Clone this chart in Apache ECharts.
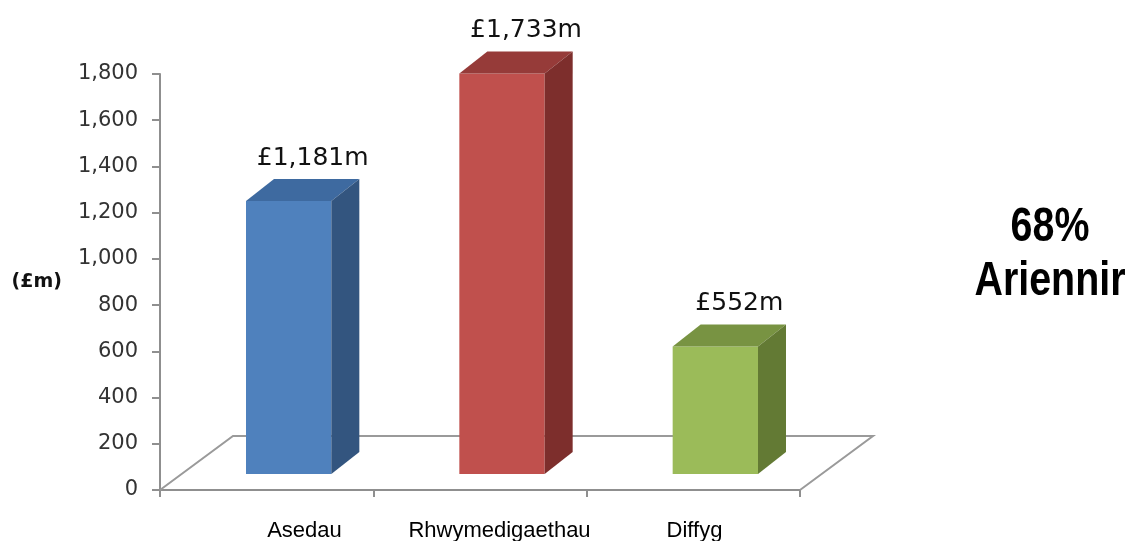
<!DOCTYPE html>
<html>
<head>
<meta charset="utf-8">
<script src="https://cdn.jsdelivr.net/npm/echarts@6/dist/echarts.min.js"></script>
<style>
  html, body { margin: 0; padding: 0; background: #fff; }
  #chart { width: 1130px; height: 541px; }
</style>
</head>
<body>
<div id="chart"></div>
<script>
const categories = ['Asedau', 'Rhwymedigaethau', 'Diffyg'];
const values = [1181, 1733, 552];
const frontColors = ['#4F81BD', '#C0504D', '#9BBB59'];
const topColors = ['#3E6AA0', '#963B39', '#789342'];
const sideColors = ['#33557F', '#7D2E2C', '#637A34'];
const yMin = 0;
const yMax = 1800;
const yStep = 200;
const summaryLines = ['68%', 'Ariennir'];

// fake 3d: bars sit a bit behind the axis plane, floor goes back further
const SHIFT_X = 22, SHIFT_Y = -16;
const DEPTH_X = 28, DEPTH_Y = -22;
const FLOOR_X = 73, FLOOR_Y = -54;
const LINE_GREY = '#8f8f8f';

const chart = echarts.init(document.getElementById('chart'));

function renderFloor(params, api) {
  const cs = params.coordSys;
  const bx = cs.x, by = cs.y + cs.height;
  return {
    type: 'polyline',
    shape: {
      points: [
        [bx, by],
        [bx + FLOOR_X, by + FLOOR_Y],
        [bx + cs.width + FLOOR_X, by + FLOOR_Y],
        [bx + cs.width, by]
      ]
    },
    style: { stroke: '#9a9a9a', lineWidth: 2, fill: null }
  };
}

function renderBar(params, api) {
  const i = api.value(0);
  const v = api.value(1);
  const base = api.coord([i, 0]);
  const top = api.coord([i, v]);
  const band = api.size([1, 0])[0];
  const w = band * 0.40;
  const cx = base[0] + SHIFT_X;
  const xl = cx - w / 2, xr = cx + w / 2;
  const yb = base[1] + SHIFT_Y, yt = top[1] + SHIFT_Y;
  const label = '£' + v.toLocaleString('en-GB') + 'm';
  return {
    type: 'group',
    children: [
      {
        type: 'rect',
        shape: { x: xl, y: yt, width: w, height: yb - yt },
        style: { fill: frontColors[i] }
      },
      {
        type: 'polygon',
        shape: { points: [[xl, yt], [xr, yt], [xr + DEPTH_X, yt + DEPTH_Y], [xl + DEPTH_X, yt + DEPTH_Y]] },
        style: { fill: topColors[i] }
      },
      {
        type: 'polygon',
        shape: { points: [[xr, yt], [xr + DEPTH_X, yt + DEPTH_Y], [xr + DEPTH_X, yb + DEPTH_Y], [xr, yb]] },
        style: { fill: sideColors[i] }
      },
      {
        type: 'text',
        style: {
          text: label,
          x: cx + 24,
          y: yt + DEPTH_Y - 21,
          align: 'center',
          verticalAlign: 'middle',
          fill: '#111',
          fontSize: 25,
          fontFamily: 'DejaVu Sans'
        }
      }
    ]
  };
}

const option = {
  animation: false,
  grid: [
    { left: 160, right: 330, top: 74, bottom: 51, outerBoundsMode: 'none' },
    { left: 207, right: 338, top: 74, bottom: 51, outerBoundsMode: 'none' }
  ],
  xAxis: [
    {
      type: 'category',
      gridIndex: 0,
      data: categories,
      axisLine: { lineStyle: { color: LINE_GREY, width: 2 } },
      axisTick: { show: true, length: 7, lineStyle: { color: LINE_GREY, width: 2 } },
      axisLabel: { show: false }
    },
    {
      type: 'category',
      gridIndex: 1,
      data: categories,
      axisLine: { show: false },
      axisTick: { show: false },
      axisLabel: {
        interval: 0,
        hideOverlap: false,
        margin: 30,
        color: '#000',
        fontSize: 22,
        fontFamily: 'Liberation Sans'
      }
    }
  ],
  yAxis: [
    {
      type: 'value',
      gridIndex: 0,
      min: yMin,
      max: yMax,
      interval: yStep,
      name: '(£m)',
      nameLocation: 'middle',
      nameRotate: 0,
      nameGap: 98,
      nameTextStyle: { fontFamily: 'DejaVu Sans', fontWeight: 'bold', fontSize: 19, color: '#111' },
      axisLine: { show: true, lineStyle: { color: LINE_GREY, width: 2 } },
      axisTick: { show: true, length: 8, lineStyle: { color: LINE_GREY, width: 2 } },
      splitLine: { show: false },
      axisLabel: {
        margin: 22,
        color: '#333',
        fontSize: 21,
        fontFamily: 'DejaVu Sans',
        formatter: (v) => v.toLocaleString('en-GB')
      }
    },
    { type: 'value', gridIndex: 1, show: false }
  ],
  series: [
    {
      type: 'custom',
      xAxisIndex: 0,
      yAxisIndex: 0,
      z: 1,
      clip: false,
      renderItem: renderFloor,
      data: [[0, 0]]
    },
    {
      type: 'custom',
      xAxisIndex: 0,
      yAxisIndex: 0,
      z: 2,
      clip: false,
      renderItem: renderBar,
      data: values.map((v, i) => [i, v])
    }
  ],
  graphic: [
    {
      type: 'text',
      x: 1050,
      y: 255,
      scaleX: 0.82,
      style: {
        text: summaryLines.join('\n'),
        x: 0,
        y: 0,
        align: 'center',
        verticalAlign: 'middle',
        fill: '#000',
        fontSize: 48,
        fontWeight: 'bold',
        fontFamily: 'Liberation Sans',
        lineHeight: 54
      }
    }
  ]
};

chart.setOption(option);
</script>
</body>
</html>
